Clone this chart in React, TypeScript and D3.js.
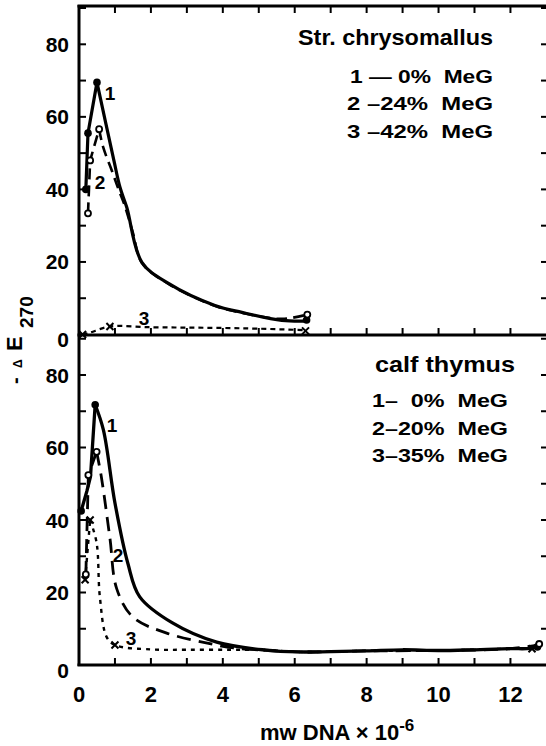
import React from "react";
import * as d3 from "d3";

// ---- data ----
const xTickLabels = [0, 2, 4, 6, 8, 10, 12];
const yTickLabels = [0, 20, 40, 60, 80];

// Str. chrysomallus panel
const top1X = [0.19, 0.25, 0.5, 0.97, 1.14, 1.33, 1.75, 2.5, 3.78, 4.53, 5.64, 6.33];
const top1Y = [40, 55.5, 69.5, 48, 40.6, 35, 19.9, 14, 8, 6.1, 3.9, 3.7];
const top2X = [0.25, 0.31, 0.56, 0.67, 0.92, 1.1, 1.28, 1.5, 1.75, 2.5, 3.78, 4.53, 5.64, 6.35];
const top2Y = [33.4, 48, 56.6, 51.7, 45, 40, 35.3, 28, 19.7, 13.9, 7.9, 6, 4.3, 5.5];
const top3X = [0.1, 0.3, 0.86, 2, 3, 4, 5, 6.3];
const top3Y = [0, 0.5, 2.2, 2, 1.9, 1.8, 1.6, 1.2];
const top1MX = [0.19, 0.25, 0.5, 6.33];
const top1MY = [40, 55.5, 69.5, 4];
const top2MX = [0.25, 0.31, 0.56, 6.35];
const top2MY = [33.4, 48, 56.6, 5.5];
const top3MX = [0.1, 0.86, 6.3];
const top3MY = [0, 2.2, 1];

// calf thymus panel
const bot1X = [0.06, 0.22, 0.32, 0.45, 0.68, 1.0, 1.36, 1.69, 2.6, 3.83, 5.2, 6.1, 7, 8, 9, 10, 11, 12, 12.55, 12.75];
const bot1Y = [42.5, 48, 52, 71.8, 64.8, 44.7, 28, 18.8, 11.6, 6.3, 4.1, 3.6, 3.7, 3.9, 4.2, 4.0, 4.2, 4.5, 4.6, 5.3];
const bot2X = [0.19, 0.26, 0.49, 0.62, 0.86, 1.05, 1.5, 2.44, 3.83, 4.3, 5.2, 6.1, 8, 10, 12, 12.75];
const bot2Y = [24.8, 52.4, 58.8, 52, 35, 21, 13.2, 8.8, 5.5, 4.7, 4.1, 3.6, 3.9, 4.0, 4.5, 5.5];
const bot3X = [0.17, 0.31, 0.49, 0.58, 0.77, 1.0, 2, 3, 4.2, 5.2, 6.1, 8, 10, 12, 12.6];
const bot3Y = [23.5, 40, 33.7, 18.8, 7.7, 5.5, 4.3, 4.2, 4.2, 4.1, 3.6, 3.9, 4.0, 4.5, 4.6];
const bot1MX = [0.06, 0.45, 12.75];
const bot1MY = [42.5, 71.8, 5];
const bot2MX = [0.19, 0.26, 0.49, 12.8];
const bot2MY = [25, 52.4, 58.8, 5.8];
const bot3MX = [0.17, 0.31, 1.0, 12.6];
const bot3MY = [23.5, 40, 5.5, 4.5];

const topTitle = "Str. chrysomallus";
const topLegend = ["1 \u2014 0%  MeG", "2 \u201324%  MeG", "3 \u201342%  MeG"];
const botTitle = "calf thymus";
const botLegend = ["1\u2013  0%  MeG", "2\u201320%  MeG", "3\u201335%  MeG"];

const FONT = "'Liberation Sans', Arial, sans-serif";

const x = d3.scaleLinear().domain([0, 13]).range([79, 546.4]);
const yTop = d3.scaleLinear().domain([0, 80]).range([334.5, 44.3]);
const yBot = d3.scaleLinear().domain([0, 80]).range([665, 375]);

function zip(a: number[], b: number[]): [number, number][] {
  return a.map((v, i) => [v, b[i]]);
}

function Curve({ xs, ys, y, dash, w, peak }: any) {
  const pts = zip(xs, ys);
  const rise = d3
    .line<[number, number]>()
    .x((d) => x(d[0]))
    .y((d) => y(d[1]))
    .curve(d3.curveLinear);
  const fall = d3
    .line<[number, number]>()
    .x((d) => x(d[0]))
    .y((d) => y(d[1]))
    .curve(d3.curveCatmullRom.alpha(0.5));
  const d1 = peak > 0 ? rise(pts.slice(0, peak + 1)) || "" : "";
  const d2 = fall(pts.slice(Math.max(peak, 0))) || "";
  return (
    <g fill="none" stroke="#000" strokeWidth={w} strokeDasharray={dash} strokeLinejoin="round">
      {d1 && <path d={d1} />}
      <path d={d2} />
    </g>
  );
}

function Marks({ xs, ys, y, kind }: any) {
  return (
    <g>
      {xs.map((v: number, i: number) => {
        const cx = x(v);
        const cy = y(ys[i]);
        if (kind === "filled") return <circle key={i} cx={cx} cy={cy} r={3.8} fill="#000" />;
        if (kind === "open")
          return <circle key={i} cx={cx} cy={cy} r={3} fill="#fff" stroke="#000" strokeWidth={1.8} />;
        const s = 3.5;
        return (
          <path key={i} d={`M${cx - s},${cy - s}L${cx + s},${cy + s}M${cx - s},${cy + s}L${cx + s},${cy - s}`} stroke="#000" strokeWidth={2} />
        );
      })}
    </g>
  );
}

function Panel({ y, topY, bottomY, top }: any) {
  const xMinor = d3.range(1, 13);
  const yMinor = d3.range(10, 91, 10).filter((v) => y(v) > topY + 2);
  return (
    <g>
      {xMinor.map((v) => (
        <line key={"xt" + v} x1={x(v)} x2={x(v)} y1={bottomY} y2={bottomY - 7} stroke="#000" strokeWidth={2} />
      ))}
      {top &&
        xMinor.map((v) => (
          <line key={"xtt" + v} x1={x(v)} x2={x(v)} y1={topY} y2={topY + 7} stroke="#000" strokeWidth={2} />
        ))}
      {yMinor.map((v) => (
        <line key={"yl" + v} x1={x(0)} x2={x(0) + 7} y1={y(v)} y2={y(v)} stroke="#000" strokeWidth={2} />
      ))}
      {yMinor.map((v) => (
        <line key={"yr" + v} x1={541} x2={547} y1={y(v)} y2={y(v)} stroke="#000" strokeWidth={2} />
      ))}
      {yTickLabels.map((v) => (
        <text key={"yl" + v} x={69} y={y(v) + 7.5 + (v === 0 ? 5 : 0)} textAnchor="end" fontSize={21} fontWeight="bold" fontFamily={FONT}>
          {v}
        </text>
      ))}
    </g>
  );
}

export default function App() {
  return (
    <svg width={546} height={746} style={{ position: "absolute", left: 0, top: 0, background: "#fff" }}>
      <rect x={0} y={0} width={546} height={746} fill="#fff" />
      {/* frame */}
      <line x1={79} x2={79} y1={5} y2={666} stroke="#000" strokeWidth={3} />
      <line x1={77.5} x2={546} y1={6} y2={6} stroke="#000" strokeWidth={3} />
      <line x1={77.5} x2={546} y1={335} y2={335} stroke="#000" strokeWidth={3} />
      <line x1={77.5} x2={546} y1={665} y2={665} stroke="#000" strokeWidth={3} />

      <Panel y={yTop} topY={6} bottomY={335} top={true} />
      <Panel y={yBot} topY={335} bottomY={665} top={false} />

      {xTickLabels.map((v) => (
        <text key={"xl" + v} x={x(v)} y={702} textAnchor="middle" fontSize={22} fontWeight="bold" fontFamily={FONT}>
          {v}
        </text>
      ))}

      {/* top panel curves */}
      <Curve xs={top3X} ys={top3Y} y={yTop} dash="5,4" w={2.2} peak={-1} />
      <Curve xs={top2X} ys={top2Y} y={yTop} dash="11,6" w={2.6} peak={2} />
      <Curve xs={top1X} ys={top1Y} y={yTop} w={3.2} peak={2} />
      <Marks xs={top1MX} ys={top1MY} y={yTop} kind="filled" />
      <Marks xs={top2MX} ys={top2MY} y={yTop} kind="open" />
      <Marks xs={top3MX} ys={top3MY} y={yTop} kind="x" />

      {/* bottom panel curves */}
      <Curve xs={bot3X} ys={bot3Y} y={yBot} dash="4,5" w={2.4} peak={1} />
      <Curve xs={bot2X} ys={bot2Y} y={yBot} dash="14,8" w={2.8} peak={2} />
      <Curve xs={bot1X} ys={bot1Y} y={yBot} w={3.3} peak={3} />
      <Marks xs={bot1MX} ys={bot1MY} y={yBot} kind="filled" />
      <Marks xs={bot2MX} ys={bot2MY} y={yBot} kind="open" />
      <Marks xs={bot3MX} ys={bot3MY} y={yBot} kind="x" />

      {/* curve numbers */}
      <g fontSize={19} fontWeight="bold" fontFamily={FONT} textAnchor="middle">
        <text x={110} y={100}>1</text>
        <text x={100} y={189}>2</text>
        <text x={144} y={325}>3</text>
        <text x={112} y={432}>1</text>
        <text x={118} y={562}>2</text>
        <text x={131} y={645}>3</text>
      </g>

      {/* legends */}
      <g fontFamily={FONT} fontWeight="bold" textAnchor="start">
        <text x={298} y={45} fontSize={22} textLength={195} lengthAdjust="spacingAndGlyphs">{topTitle}</text>
        {topLegend.map((t, i) => (
          <text key={t} x={i === 0 ? 350 : 347} y={83 + i * 27.3} fontSize={18.5} textLength={i === 0 ? 143 : 146} lengthAdjust="spacingAndGlyphs" style={{ whiteSpace: "pre" }}>
            {t}
          </text>
        ))}
        <text x={375} y={372} fontSize={22} textLength={140} lengthAdjust="spacingAndGlyphs">{botTitle}</text>
        {botLegend.map((t, i) => (
          <text key={t} x={372} y={407 + i * 27.5} fontSize={18.5} textLength={136} lengthAdjust="spacingAndGlyphs" style={{ whiteSpace: "pre" }}>
            {t}
          </text>
        ))}
      </g>

      {/* y-axis label */}
      <g fontFamily={FONT} fontWeight="bold">
        <text transform="translate(22,0) rotate(-90)" x={-384} y={0} fontSize={20}>-</text>
        <text transform="translate(22,0) rotate(-90)" x={-368} y={0} fontSize={12}>{"\u0394"}</text>
        <text transform="translate(22,0) rotate(-90)" x={-351} y={0} fontSize={22}>E</text>
        <text transform="translate(22,0) rotate(-90)" x={-328} y={11} fontSize={19}>270</text>
      </g>

      {/* x-axis label */}
      <text x={260} y={740} fontFamily={FONT} fontWeight="bold" fontSize={22} style={{ whiteSpace: "pre" }}>
        {"mw DNA \u00d7 10"}
        <tspan fontSize={17} dy={-9}>-6</tspan>
      </text>
    </svg>
  );
}
